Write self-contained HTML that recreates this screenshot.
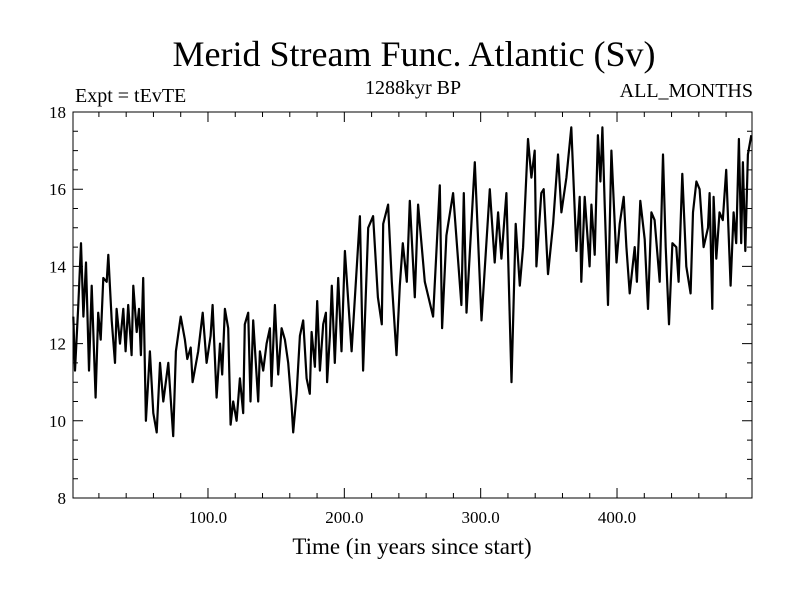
<!DOCTYPE html>
<html><head><meta charset="utf-8"><style>
body{margin:0;background:#fff}
svg text{font-family:"Liberation Serif",serif;fill:#000}
</style></head><body>
<svg width="800" height="600" xmlns="http://www.w3.org/2000/svg">
<rect width="800" height="600" fill="#fff"/>
<text x="414" y="66" font-size="36" text-anchor="middle">Merid Stream Func. Atlantic (Sv)</text>
<text x="75" y="102" font-size="20">Expt = tEvTE</text>
<text x="413" y="94" font-size="20" text-anchor="middle">1288kyr BP</text>
<text x="753" y="97" font-size="20" text-anchor="end">ALL_MONTHS</text>
<text x="412" y="554" font-size="23" text-anchor="middle">Time (in years since start)</text>
<g id="ticks"></g>
<g id="labels"></g>
<path id="series" fill="none" stroke="#000" stroke-width="2.2" stroke-linejoin="round"/>
<rect x="73" y="112" width="679" height="386" fill="none" stroke="#000" stroke-width="1"/>
</svg>
<script>
const years=[1.2,2.5,4.9,6.9,8.6,10.5,12.7,14.7,17.6,19.5,21.3,23.2,25.7,26.9,29.4,31.8,33,35.5,37.9,39.6,41.5,44,45.2,47.7,49.4,50.8,52.5,54.5,57.4,59.9,62.4,64.8,67.2,70.9,74.5,76.5,80,83.1,84.8,87.3,88.7,92.8,96.1,99,101.9,103.4,106.3,108.8,110.4,112.4,114.8,116.6,118.5,121,123.4,125.8,127,129.5,131.2,133.2,136.8,138.1,140.5,143,145.4,146.6,149.1,151.5,154,156.4,158.8,161.3,162.5,165,167.4,169.8,172.3,174.7,176,178.4,180.1,182.1,184.5,186.5,187.4,189.4,190.8,193,195.5,197.9,200.4,205.3,211.4,213.8,217.5,221.1,224.6,227.5,228.5,232.1,234.8,238.3,240.7,242.9,245.8,248,251.7,254.1,259,265.1,270,271.7,274.9,279.8,285.9,287.6,289.6,295.7,300.6,306.7,310.3,312.8,315.2,318.9,322.6,325.7,328.7,331.1,334.7,337.2,339.6,340.9,344.5,346.2,349.4,353.1,356.7,359.2,362.9,366.5,370.2,372.6,373.8,376.3,379.9,381.2,383.6,386,387.8,389.3,391,393.4,395.9,399.6,402,404.9,406.9,409.3,413,414.6,417.1,420.3,422.7,425.2,427.6,431.3,433.7,435.7,438.1,440.6,443.5,445.2,447.9,450.8,454,455.7,458.2,460.6,463.5,466.7,467.9,469.9,470.8,472.8,475.2,477.6,480.1,483.3,485.5,487.4,489.4,491.1,492.3,494.1,496,498.5];
const values=[12.7,11.3,13.0,14.6,12.7,14.1,11.3,13.5,10.6,12.8,12.1,13.7,13.6,14.3,12.6,11.5,12.9,12.0,12.9,11.8,13.0,11.7,13.5,12.3,12.9,11.7,13.7,10.0,11.8,10.2,9.7,11.5,10.5,11.5,9.6,11.8,12.7,12.1,11.6,11.9,11.0,11.8,12.8,11.5,12.2,13.0,10.6,12.0,11.2,12.9,12.4,9.9,10.5,10.0,11.1,10.2,12.5,12.8,10.5,12.6,10.5,11.8,11.3,12.0,12.4,10.9,13.0,11.2,12.4,12.1,11.5,10.4,9.7,10.7,12.2,12.6,11.1,10.7,12.3,11.4,13.1,11.3,12.5,12.8,11.0,12.2,13.5,11.5,13.7,11.8,14.4,11.8,15.3,11.3,15.0,15.3,13.2,12.5,15.1,15.6,13.6,11.7,13.5,14.6,13.6,15.7,13.2,15.6,13.6,12.7,16.1,12.4,14.8,15.9,13.0,15.9,12.8,16.7,12.6,16.0,14.1,15.4,14.2,15.9,11.0,15.1,13.5,14.5,17.3,16.3,17.0,14.0,15.9,16.0,13.8,15.1,16.9,15.4,16.3,17.6,14.4,15.8,13.6,15.8,14.0,15.6,14.3,17.4,16.2,17.6,15.6,13.0,17.0,14.1,15.1,15.8,14.5,13.3,14.5,13.6,15.7,14.7,12.9,15.4,15.2,13.6,16.9,14.5,12.5,14.6,14.5,13.6,16.4,14.0,13.3,15.4,16.2,16.0,14.5,15.0,15.9,12.9,15.8,14.2,15.4,15.2,16.5,13.5,15.4,14.6,17.3,14.6,16.7,14.4,16.9,17.4];
const xTickLabels=["100.0","200.0","300.0","400.0"];
const xTickValues=[100,200,300,400];
const yTickLabels=["8","10","12","14","16","18"];
const yTickValues=[8,10,12,14,16,18];
const X0=73,X1=752,Y0=498,Y1=112,XMIN=1,XMAX=499,YMIN=8,YMAX=18;
function sx(v){return X0+(v-XMIN)*(X1-X0)/(XMAX-XMIN);}
function sy(v){return Y0-(v-YMIN)*(Y0-Y1)/(YMAX-YMIN);}
const NS="http://www.w3.org/2000/svg";
let d="";
for(let i=0;i<years.length;i++){d+=(i?"L":"M")+sx(years[i]).toFixed(1)+" "+sy(values[i]).toFixed(1);}
document.getElementById("series").setAttribute("d",d);
const tg=document.getElementById("ticks"),lg=document.getElementById("labels");
let td="";
for(let t=20;t<XMAX;t+=20){const x=sx(t);const L=(t%100===0)?10:5;td+=`M${x} ${Y0}v${-L}M${x} ${Y1}v${L}`;}
for(let t=8;t<=18;t+=0.5){const y=sy(t);const L=(t%2===0)?10:5;td+=`M${X0} ${y}h${L}M${X1} ${y}h${-L}`;}
const tp=document.createElementNS(NS,"path");
tp.setAttribute("d",td);tp.setAttribute("stroke","#000");tp.setAttribute("stroke-width","1");


tg.appendChild(tp);
for(let i=0;i<xTickValues.length;i++){
const t=document.createElementNS(NS,"text");
t.setAttribute("x",sx(xTickValues[i]));t.setAttribute("y",523);t.setAttribute("font-size","17");t.setAttribute("text-anchor","middle");
t.textContent=xTickLabels[i];


lg.appendChild(t);}
for(let i=0;i<yTickValues.length;i++){
const t=document.createElementNS(NS,"text");
t.setAttribute("x",66);t.setAttribute("y",sy(yTickValues[i])+6);t.setAttribute("font-size","17");t.setAttribute("text-anchor","end");
t.textContent=yTickLabels[i];


lg.appendChild(t);}
</script>
</body></html>
